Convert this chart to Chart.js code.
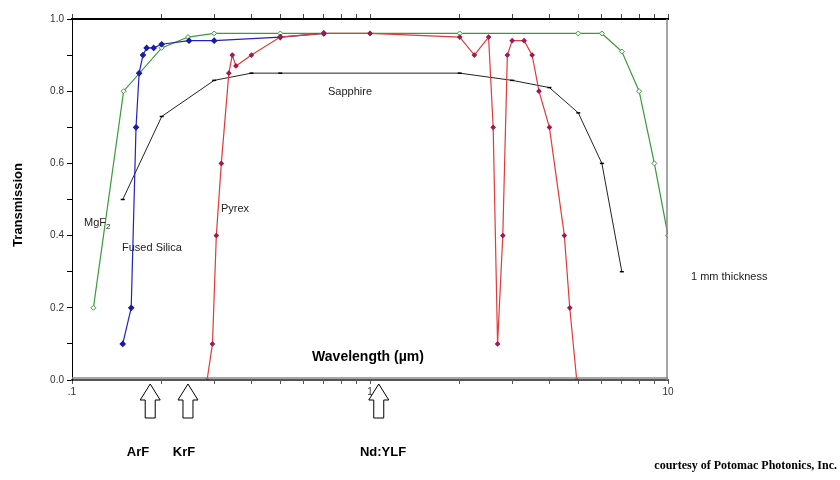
<!DOCTYPE html>
<html>
<head>
<meta charset="utf-8">
<script src="https://cdn.jsdelivr.net/npm/chart.js@4"></script>
<style>
  html, body { margin: 0; padding: 0; background: #fff; }
  #wrap { width: 840px; height: 480px; position: relative; }
</style>
</head>
<body>
<div id="wrap"><canvas id="grafico"></canvas></div>
<script>
// wavelength (µm) / transmission
const mgf2X = [0.118, 0.149, 0.2, 0.245, 0.3, 0.5, 1, 2, 5, 6, 7, 8, 9, 10];
const mgf2Y = [0.20, 0.80, 0.92, 0.95, 0.96, 0.96, 0.96, 0.96, 0.96, 0.96, 0.91, 0.80, 0.60, 0.40];

const silicaX = [0.148, 0.158, 0.164, 0.168, 0.173, 0.178, 0.188, 0.2, 0.247, 0.3, 0.5, 0.7];
const silicaY = [0.10, 0.20, 0.70, 0.85, 0.90, 0.92, 0.92, 0.93, 0.94, 0.94, 0.95, 0.96];

const pyrexX = [0.284, 0.296, 0.305, 0.317, 0.336, 0.345, 0.355, 0.4, 0.5, 0.7, 1.0, 2.0, 2.24, 2.5,
                2.59, 2.68, 2.79, 2.89, 3.0, 3.29, 3.5, 3.69, 4.0, 4.49, 4.68, 4.94];
const pyrexY = [0, 0.10, 0.40, 0.60, 0.85, 0.90, 0.87, 0.90, 0.95, 0.96, 0.96, 0.95, 0.90, 0.95,
                0.70, 0.10, 0.40, 0.90, 0.94, 0.94, 0.90, 0.80, 0.70, 0.40, 0.20, 0];

const sapphireX = [0.148, 0.2, 0.3, 0.4, 0.5, 2, 3, 4, 5, 6, 7];
const sapphireY = [0.50, 0.73, 0.83, 0.85, 0.85, 0.85, 0.83, 0.81, 0.74, 0.60, 0.30];

const xTicks = [0.1, 0.2, 0.3, 0.4, 0.5, 0.6, 0.7, 0.8, 0.9, 1, 2, 3, 4, 5, 6, 7, 8, 9, 10];
const xTickLabels = { 0.1: '.1', 1: '1', 10: '10' };

// laser lines marked with arrows under the axis (positions as drawn)
const laserNames = ['ArF', 'KrF', 'Nd:YLF'];
const laserWavelengths = [0.183, 0.245, 1.07];

const font = 'Liberation Sans, Arial, sans-serif';

function pts(xs, ys) {
    return xs.map((x, i) => ({ x: x, y: ys[i] }));
}

const extras = {
    id: 'extras',
    afterDraw(chart) {
        const c = chart.ctx;
        const a = chart.chartArea;
        const xs = chart.scales.x;
        c.save();

        // right frame line
        c.strokeStyle = '#888';
        c.lineWidth = 1.5;
        c.beginPath();
        c.moveTo(a.right - 1, a.top);
        c.lineTo(a.right - 1, a.bottom);
        c.stroke();

        // grey line just above the zero line
        c.beginPath();
        c.moveTo(a.left, a.bottom - 2);
        c.lineTo(a.right, a.bottom - 2);
        c.stroke();

        c.fillStyle = '#222';
        c.textBaseline = 'middle';
        c.font = '11px ' + font;
        c.fillText('Sapphire', 328, 92);
        c.fillText('Fused Silica', 122, 248);
        c.fillText('Pyrex', 221, 209);
        c.fillText('1 mm thickness', 691, 277);
        c.fillText('MgF', 84, 223);
        const w = c.measureText('MgF').width;
        c.font = '8px ' + font;
        c.fillText('2', 84 + w, 227);

        c.fillStyle = '#000';
        c.font = 'bold 14px ' + font;
        c.textAlign = 'center';
        c.fillText('Wavelength (µm)', 368, 357);

        c.save();
        c.translate(18, 205);
        c.rotate(-Math.PI / 2);
        c.font = 'bold 13px ' + font;
        c.fillText('Transmission', 0, 0);
        c.restore();

        // hollow arrows
        c.strokeStyle = '#000';
        c.lineWidth = 1;
        c.fillStyle = '#fff';
        laserWavelengths.forEach(v => {
            const px = xs.getPixelForValue(v);
            c.beginPath();
            c.moveTo(px, 384);
            c.lineTo(px + 10, 400);
            c.lineTo(px + 5, 400);
            c.lineTo(px + 5, 418);
            c.lineTo(px - 5, 418);
            c.lineTo(px - 5, 400);
            c.lineTo(px - 10, 400);
            c.closePath();
            c.fill();
            c.stroke();
        });

        c.fillStyle = '#000';
        c.font = 'bold 13px ' + font;
        const labelPos = [138, 184, 383];
        laserNames.forEach((n, i) => c.fillText(n, labelPos[i], 452));

        c.textAlign = 'right';
        c.font = 'bold 12px Liberation Serif, Times New Roman, serif';
        c.fillText('courtesy of Potomac Photonics, Inc.', 837, 466);
        c.restore();
    }
};

const xAxisBase = {
    type: 'logarithmic',
    min: 0.1,
    max: 10,
    afterBuildTicks: s => { s.ticks = xTicks.map(v => ({ value: v })); }
};

const ctx = document.getElementById('grafico').getContext('2d');
const myChart = new Chart(ctx, {
    type: 'scatter',
    data: {
        datasets: [
            {
                label: 'Pyrex',
                data: pts(pyrexX, pyrexY),
                showLine: true,
                borderColor: '#e03a3a',
                borderWidth: 1.2,
                pointStyle: 'rectRot',
                pointRadius: 2,
                pointBackgroundColor: '#a0184e',
                pointBorderColor: '#a0184e',
                order: 1
            },
            {
                label: 'Fused Silica',
                data: pts(silicaX, silicaY),
                showLine: true,
                borderColor: '#2222c0',
                borderWidth: 1.2,
                pointStyle: 'rectRot',
                pointRadius: 2.5,
                pointBackgroundColor: '#1a1aa8',
                pointBorderColor: '#1a1aa8',
                order: 2
            },
            {
                label: 'Sapphire',
                data: pts(sapphireX, sapphireY),
                showLine: true,
                borderColor: '#222',
                borderWidth: 1,
                pointStyle: 'line',
                pointRadius: 2,
                pointBorderColor: '#000',
                pointBorderWidth: 1.5,
                order: 3
            },
            {
                label: 'MgF2',
                data: pts(mgf2X, mgf2Y),
                showLine: true,
                borderColor: '#3a9a3a',
                borderWidth: 1.2,
                pointStyle: 'rectRot',
                pointRadius: 2.5,
                pointBackgroundColor: '#fff',
                pointBorderColor: '#3a9a3a',
                pointBorderWidth: 1,
                order: 4
            }
        ]
    },
    options: {
        responsive: true,
        maintainAspectRatio: false,
        animation: false,
        layout: { padding: { left: 0, right: 172, top: 0, bottom: 0 } },
        plugins: {
            legend: { display: false },
            tooltip: { enabled: false }
        },
        elements: { line: { tension: 0 } },
        scales: {
            x: Object.assign({}, xAxisBase, {
                position: 'bottom',
                afterFit: s => { s.height = 100; },
                border: { color: '#555', width: 2 },
                grid: { drawOnChartArea: false, tickLength: 4, color: '#555' },
                ticks: {
                    autoSkip: false,
                    maxRotation: 0,
                    padding: 2,
                    color: '#333',
                    font: { family: font, size: 10 },
                    callback: v => xTickLabels[v] || ''
                }
            }),
            x2: Object.assign({}, xAxisBase, {
                position: 'top',
                afterFit: s => { s.height = 19; },
                border: { color: '#000', width: 2 },
                grid: { drawOnChartArea: false, tickLength: 5, color: '#444' },
                ticks: { display: false, autoSkip: false }
            }),
            y: {
                min: 0,
                max: 1,
                afterFit: s => { s.width = 72; },
                border: { color: '#000', width: 1 },
                grid: { drawOnChartArea: false, tickLength: 5, color: '#000' },
                ticks: {
                    stepSize: 0.1,
                    autoSkip: false,
                    padding: 3,
                    color: '#333',
                    font: { family: font, size: 10 },
                    callback: v => (Math.round(v * 10) % 2 === 0 ? v.toFixed(1) : '')
                }
            }
        }
    },
    plugins: [extras]
});
</script>
</body>
</html>
